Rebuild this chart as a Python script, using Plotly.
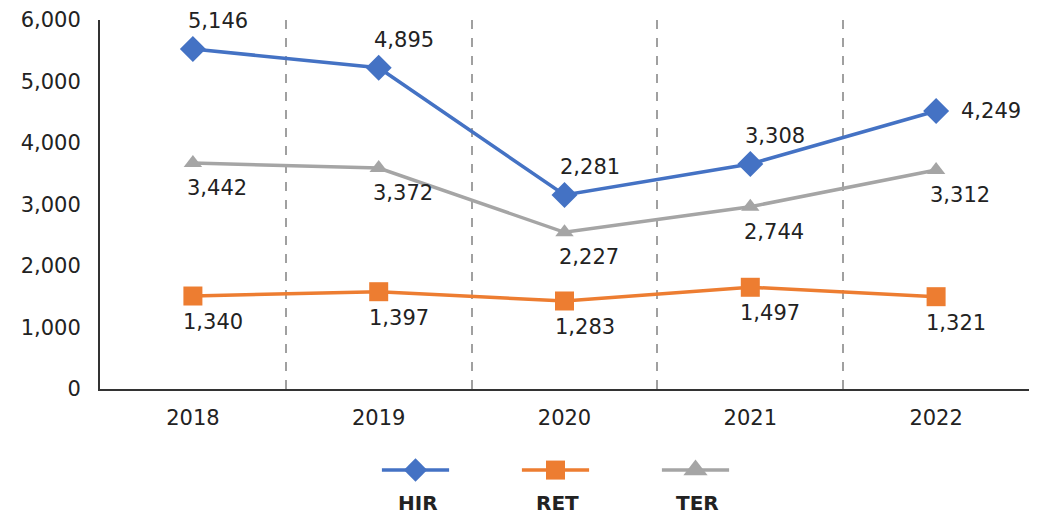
import plotly.graph_objects as go

years = ["2018", "2019", "2020", "2021", "2022"]
series_names = ["HIR", "RET", "TER"]

# plotted positions
hir_values = [5528, 5224, 3154, 3659, 4520]
ret_values = [1512, 1582, 1431, 1654, 1501]
ter_values = [3675, 3593, 2548, 2964, 3561]

# data labels as printed on the chart
hir_labels = ["5,146", "4,895", "2,281", "3,308", "4,249"]
ret_labels = ["1,340", "1,397", "1,283", "1,497", "1,321"]
ter_labels = ["3,442", "3,372", "2,227", "2,744", "3,312"]

y_ticks = [0, 1000, 2000, 3000, 4000, 5000, 6000]

colors = {"HIR": "#4472C4", "RET": "#ED7D31", "TER": "#A5A5A5"}
symbols = {"HIR": "diamond", "RET": "square", "TER": "triangle-up"}
msizes = {"HIR": 20, "RET": 19, "TER": 16}
legend_msizes = {"HIR": 18, "RET": 19, "TER": 21}

FONT = "DejaVu Sans"
TXT = "#222222"

x_idx = list(range(len(years)))
values = {"HIR": hir_values, "RET": ret_values, "TER": ter_values}
labels = {"HIR": hir_labels, "RET": ret_labels, "TER": ter_labels}

fig = go.Figure()
for name in series_names:
    fig.add_trace(go.Scatter(
        x=x_idx, y=values[name], mode="lines+markers", name=name,
        line=dict(color=colors[name], width=3.5),
        marker=dict(symbol=symbols[name], size=msizes[name], color=colors[name], line=dict(width=0)),
        showlegend=False, xaxis="x", yaxis="y",
    ))

annotations = []
offsets = {"HIR": (25, 28), "RET": (20, -26), "TER": (24, -25)}
for name in series_names:
    for i, (v, t) in enumerate(zip(values[name], labels[name])):
        xs, ys = offsets[name]
        if name == "HIR" and i == len(years) - 1:
            xs, ys = 55, 0
        annotations.append(dict(
            x=i, y=v, xref="x", yref="y", text=t, showarrow=False,
            xshift=xs, yshift=ys, font=dict(family=FONT, size=21, color=TXT),
        ))

# custom legend (symbol line with name centered underneath)
half = 0.24
for j, name in enumerate(series_names):
    fig.add_trace(go.Scatter(
        x=[j - half, j + half], y=[0, 0], mode="lines",
        line=dict(color=colors[name], width=3.5),
        showlegend=False, hoverinfo="skip", xaxis="x2", yaxis="y2",
    ))
    fig.add_trace(go.Scatter(
        x=[j], y=[0], mode="markers",
        marker=dict(symbol=symbols[name], size=legend_msizes[name], color=colors[name], line=dict(width=0)),
        showlegend=False, hoverinfo="skip", xaxis="x2", yaxis="y2",
    ))
    annotations.append(dict(
        x=j, y=0, xref="x2", yref="y2", text=name, showarrow=False,
        yshift=-33, xshift=2, font=dict(family=FONT, size=20, color=TXT, weight="bold"),
    ))

grid_between = [i + 0.5 for i in x_idx[:-1]]

# page body has an 8px margin: figure is sized/offset to fill the 1041x516 window
W, H = 1033, 508
fig.update_layout(
    width=W, height=H,
    margin=dict(l=92, r=12, t=12, b=0),
    paper_bgcolor="white", plot_bgcolor="white",
    font=dict(family=FONT, color=TXT),
    annotations=annotations,
    xaxis=dict(
        range=[-0.5, len(years) - 0.5], tickvals=x_idx, ticktext=years,
        showgrid=False, zeroline=False, showline=True, linecolor="#333333", linewidth=2,
        ticks="", tickfont=dict(family=FONT, size=21, color=TXT), ticklabelstandoff=9,
        minor=dict(tickvals=grid_between, showgrid=True, gridcolor="#A0A0A0", griddash="dash", gridwidth=1.5, ticks=""),
        anchor="y", fixedrange=True, automargin=False,
    ),
    yaxis=dict(
        range=[0, 6000], tickvals=y_ticks, tickformat=",",
        domain=[(508 - 381) / 496, 1],
        showgrid=False, zeroline=False, showline=True, linecolor="#333333", linewidth=2,
        ticks="", tickfont=dict(family=FONT, size=21, color=TXT), ticklabelstandoff=13,
        anchor="x", automargin=False,
    ),
    xaxis2=dict(domain=[0, 1], range=[-315.5 / 140, -315.5 / 140 + 929 / 140],
                visible=False, anchor="y2", fixedrange=True),
    yaxis2=dict(domain=[0, 0.25], range=[-1, 1.7], visible=False, anchor="x2", fixedrange=True),
)

fig.write_html("out.html")
